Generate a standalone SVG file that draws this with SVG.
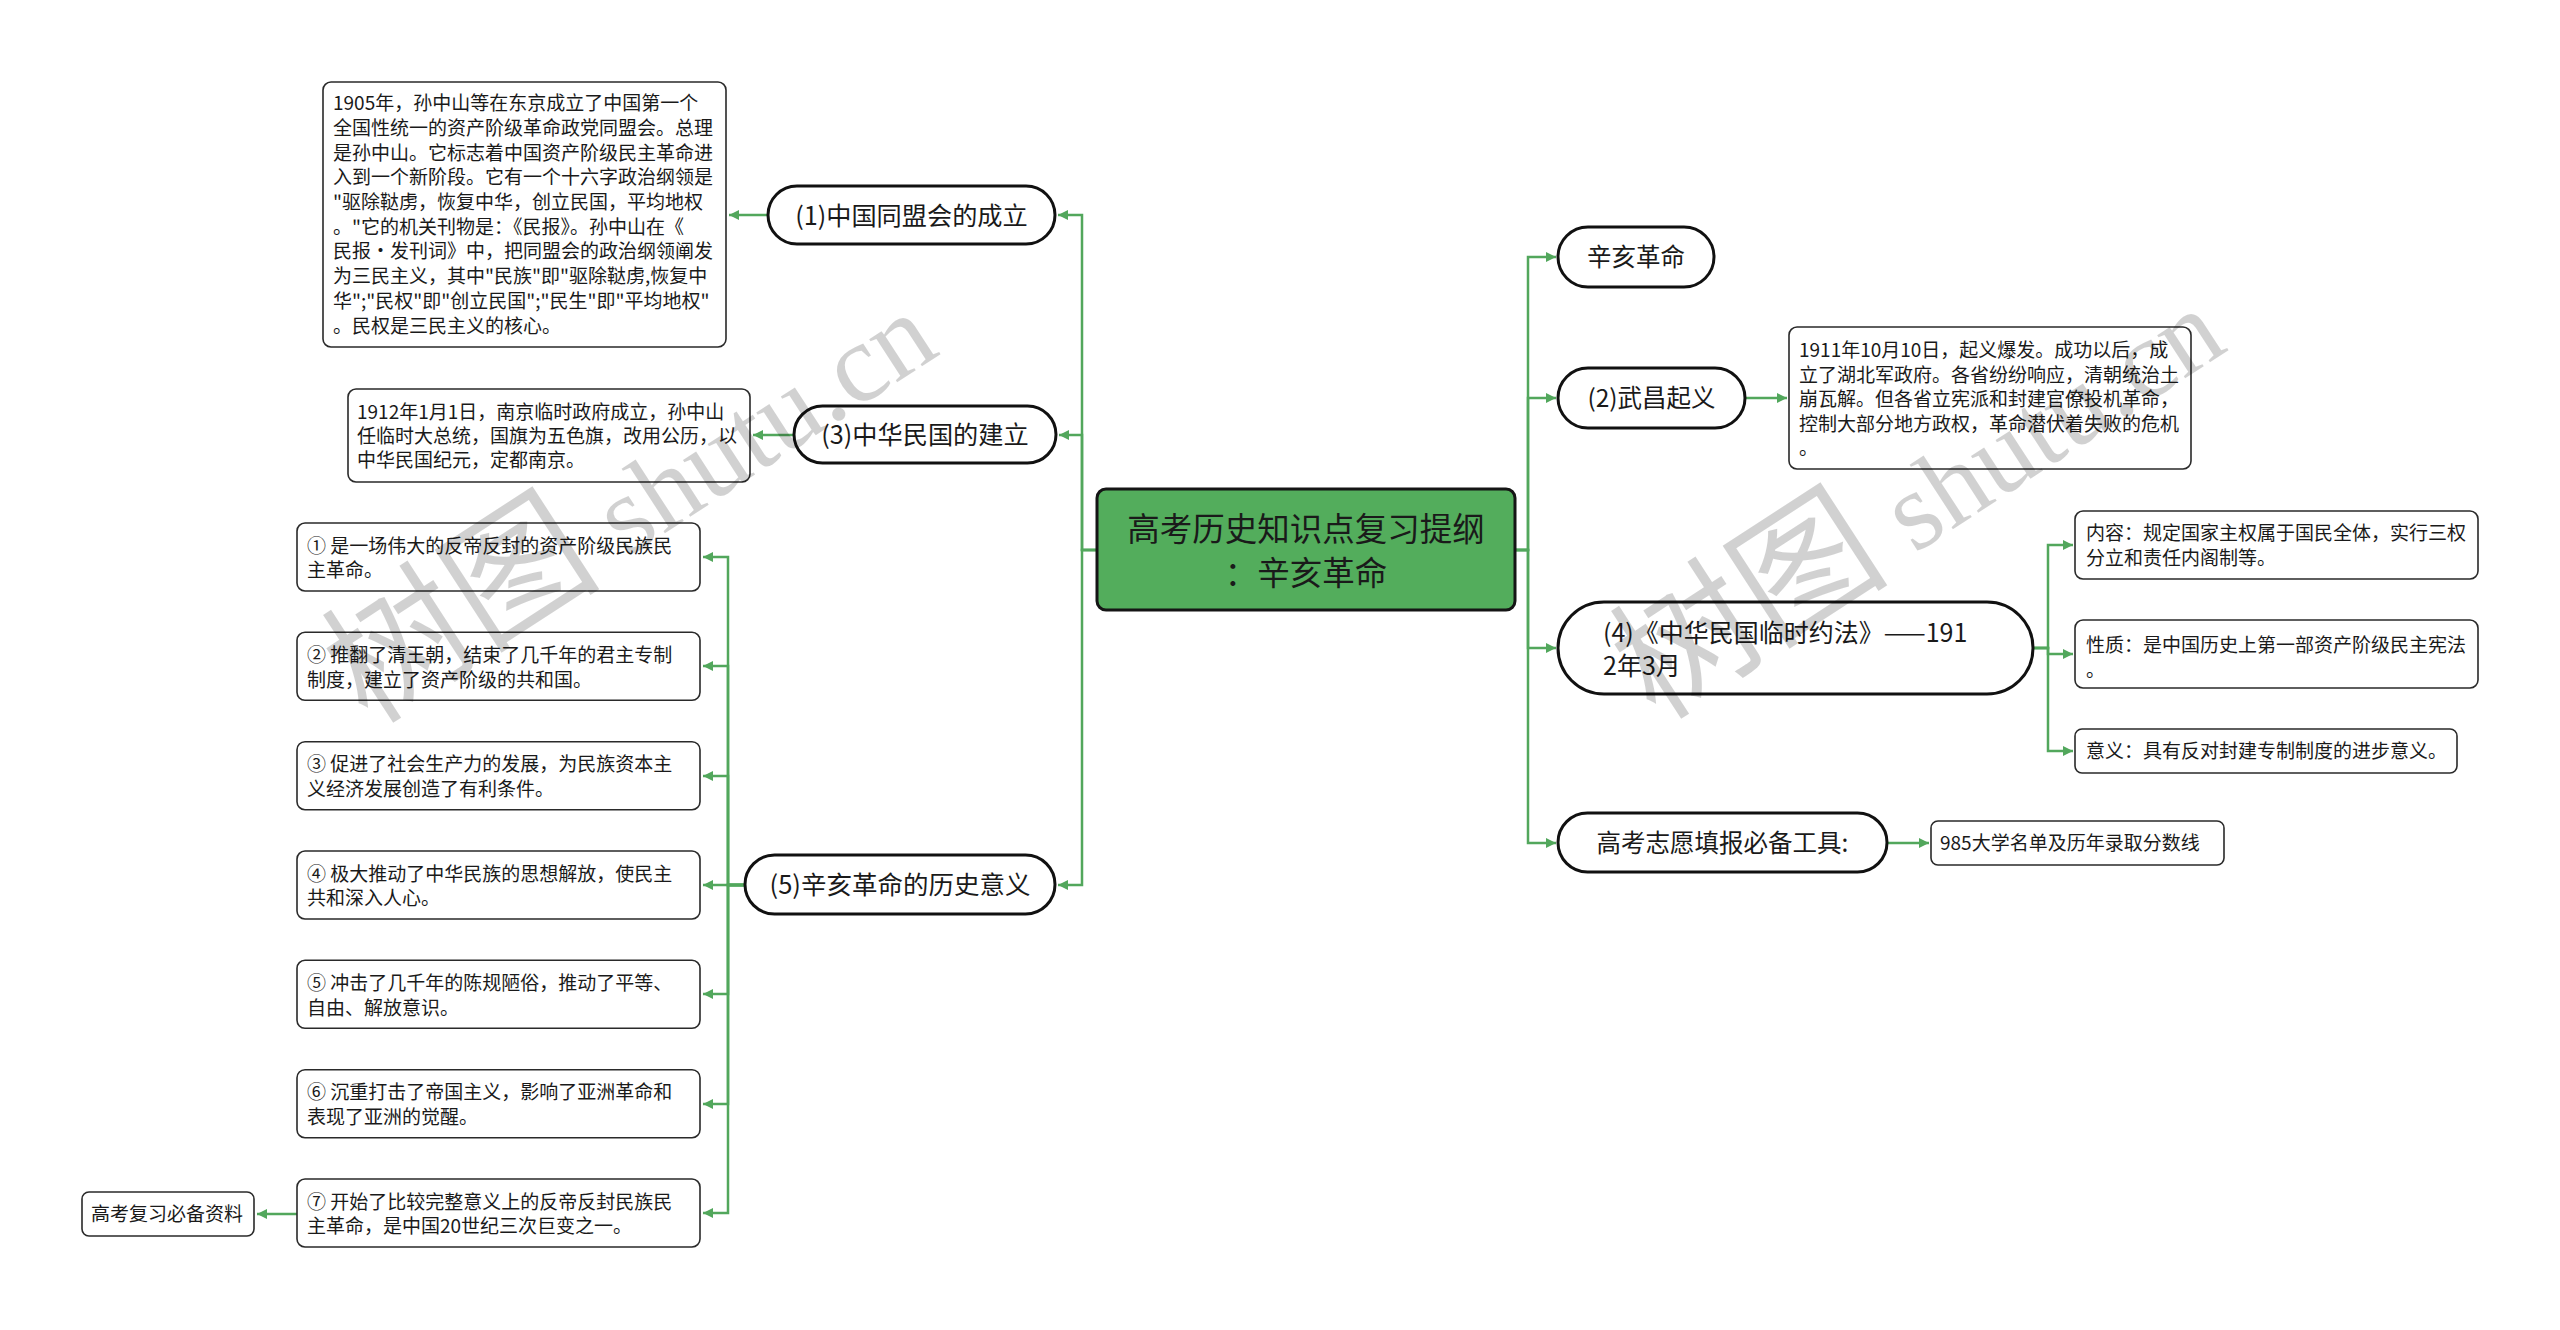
<svg xmlns="http://www.w3.org/2000/svg" width="2560" height="1330" viewBox="0 0 2560 1330">
<defs>
<marker id="arr" markerUnits="userSpaceOnUse" markerWidth="10" markerHeight="10" refX="10" refY="5" orient="auto">
<path d="M0,0 L10,5 L0,10 z" fill="#52a75c"/>
</marker>
<style>
.t{font-family:"Noto Sans CJK SC","Microsoft YaHei",sans-serif;fill:#1a1a1a}
.note{font-size:19px}
.pill{fill:#fff;stroke:#111;stroke-width:3}
.box{fill:#fff;stroke:#2a2a2a;stroke-width:1.6}
.c{fill:none;stroke:#52a75c;stroke-width:2.5;marker-end:url(#arr)}
.wm{font-family:"Liberation Serif","Noto Sans CJK SC",serif;font-size:112px;fill:#000;fill-opacity:0.18}
.wmc{font-size:140px}
</style>
</defs>
<rect width="2560" height="1330" fill="#fff"/>

<g id="connectors">
<path class="c" d="M1097 550 H1082 V215 H1058"/>
<path class="c" d="M1097 550 H1082 V435 H1059"/>
<path class="c" d="M1097 550 H1082 V885 H1058"/>
<path class="c" d="M768 215 H729"/>
<path class="c" d="M794 435 H753"/>
<path class="c" d="M745 885 H728 V557 H703"/>
<path class="c" d="M745 885 H728 V666 H703"/>
<path class="c" d="M745 885 H728 V776 H703"/>
<path class="c" d="M745 885 H703"/>
<path class="c" d="M745 885 H728 V994 H703"/>
<path class="c" d="M745 885 H728 V1104 H703"/>
<path class="c" d="M745 885 H728 V1213 H703"/>
<path class="c" d="M297 1214 H257"/>
<path class="c" d="M1515 550 H1528 V257 H1556"/>
<path class="c" d="M1515 550 H1528 V398 H1556"/>
<path class="c" d="M1515 550 H1528 V648 H1556"/>
<path class="c" d="M1515 550 H1528 V843 H1556"/>
<path class="c" d="M1745 398 H1787"/>
<path class="c" d="M2033 648 H2048 V545 H2073"/>
<path class="c" d="M2033 648 H2048 V654 H2073"/>
<path class="c" d="M2033 648 H2048 V751 H2073"/>
<path class="c" d="M1887 843 H1929"/>
</g>

<g id="root">
<rect x="1097" y="489" width="418" height="121" rx="9" fill="#53ad5c" stroke="#151515" stroke-width="3"/>
<text class="t" x="1306" y="540.5" font-size="32.5" text-anchor="middle" fill="#1e2a1e">高考历史知识点复习提纲</text>
<text class="t" x="1306" y="585" font-size="32.5" text-anchor="middle" fill="#1e2a1e">：辛亥革命</text>
</g>

<g id="n1">
<rect class="pill" x="768" y="186" width="287" height="58" rx="29"/>
<text class="t" x="911.5" y="224.5" font-size="25.2" text-anchor="middle">(1)中国同盟会的成立</text>
</g>
<g id="n1d">
<rect class="box" x="323" y="82" width="403" height="265" rx="8"/>
<text class="t note" x="333" y="110.2">
<tspan x="333">1905年，孙中山等在东京成立了中国第一个</tspan>
<tspan x="333" dy="24.7">全国性统一的资产阶级革命政党同盟会。总理</tspan>
<tspan x="333" dy="24.7">是孙中山。它标志着中国资产阶级民主革命进</tspan>
<tspan x="333" dy="24.7">入到一个新阶段。它有一个十六字政治纲领是</tspan>
<tspan x="333" dy="24.7">"驱除鞑虏，恢复中华，创立民国，平均地权</tspan>
<tspan x="333" dy="24.7">。"它的机关刊物是：《民报》。孙中山在《</tspan>
<tspan x="333" dy="24.7">民报·发刊词》中，把同盟会的政治纲领阐发</tspan>
<tspan x="333" dy="24.7">为三民主义，其中"民族"即"驱除鞑虏,恢复中</tspan>
<tspan x="333" dy="24.7">华";"民权"即"创立民国";"民生"即"平均地权"</tspan>
<tspan x="333" dy="24.7">。民权是三民主义的核心。</tspan>
</text>
</g>

<g id="n3">
<rect class="pill" x="794" y="406" width="262" height="57" rx="28.5"/>
<text class="t" x="925" y="444" font-size="25.2" text-anchor="middle">(3)中华民国的建立</text>
</g>
<g id="n3d">
<rect class="box" x="348" y="389" width="402" height="93" rx="8"/>
<text class="t note" x="357" y="419.2">
<tspan x="357">1912年1月1日，南京临时政府成立，孙中山</tspan>
<tspan x="357" dy="24">任临时大总统，国旗为五色旗，改用公历，以</tspan>
<tspan x="357" dy="24">中华民国纪元，定都南京。</tspan>
</text>
</g>

<g id="n5">
<rect class="pill" x="745" y="855" width="310" height="59" rx="29.5"/>
<text class="t" x="900" y="894.2" font-size="25.5" text-anchor="middle">(5)辛亥革命的历史意义</text>
</g>
<g id="n5a">
<rect class="box" x="297" y="523" width="403" height="68" rx="8"/>
<text class="t note" x="307" y="552.7"><tspan x="307">① 是一场伟大的反帝反封的资产阶级民族民</tspan><tspan x="307" dy="24.5">主革命。</tspan></text>
</g>
<g id="n5b">
<rect class="box" x="297" y="632.3" width="403" height="68" rx="8"/>
<text class="t note" x="307" y="662"><tspan x="307">② 推翻了清王朝，结束了几千年的君主专制</tspan><tspan x="307" dy="24.5">制度，建立了资产阶级的共和国。</tspan></text>
</g>
<g id="n5c">
<rect class="box" x="297" y="741.7" width="403" height="68" rx="8"/>
<text class="t note" x="307" y="771.4"><tspan x="307">③ 促进了社会生产力的发展，为民族资本主</tspan><tspan x="307" dy="24.5">义经济发展创造了有利条件。</tspan></text>
</g>
<g id="n5d">
<rect class="box" x="297" y="851" width="403" height="68" rx="8"/>
<text class="t note" x="307" y="880.7"><tspan x="307">④ 极大推动了中华民族的思想解放，使民主</tspan><tspan x="307" dy="24.5">共和深入人心。</tspan></text>
</g>
<g id="n5e">
<rect class="box" x="297" y="960.3" width="403" height="68" rx="8"/>
<text class="t note" x="307" y="990"><tspan x="307">⑤ 冲击了几千年的陈规陋俗，推动了平等、</tspan><tspan x="307" dy="24.5">自由、解放意识。</tspan></text>
</g>
<g id="n5f">
<rect class="box" x="297" y="1069.7" width="403" height="68" rx="8"/>
<text class="t note" x="307" y="1099.4"><tspan x="307">⑥ 沉重打击了帝国主义，影响了亚洲革命和</tspan><tspan x="307" dy="24.5">表现了亚洲的觉醒。</tspan></text>
</g>
<g id="n5g">
<rect class="box" x="297" y="1179" width="403" height="68" rx="8"/>
<text class="t note" x="307" y="1208.7"><tspan x="307">⑦ 开始了比较完整意义上的反帝反封民族民</tspan><tspan x="307" dy="24.5">主革命，是中国20世纪三次巨变之一。</tspan></text>
</g>
<g id="n5g1">
<rect class="box" x="82" y="1192" width="172" height="44" rx="7"/>
<text class="t note" x="91" y="1221.2">高考复习必备资料</text>
</g>

<g id="r0">
<rect class="pill" x="1558" y="227" width="156" height="60" rx="30"/>
<text class="t" x="1636" y="266.3" font-size="24.5" text-anchor="middle">辛亥革命</text>
</g>
<g id="r2">
<rect class="pill" x="1558" y="368" width="187" height="60" rx="30"/>
<text class="t" x="1651.5" y="407.3" font-size="24.5" text-anchor="middle">(2)武昌起义</text>
</g>
<g id="r2d">
<rect class="box" x="1789" y="327" width="402" height="142" rx="8"/>
<text class="t note" x="1799" y="357.2">
<tspan x="1799">1911年10月10日，起义爆发。成功以后，成</tspan>
<tspan x="1799" dy="24.5">立了湖北军政府。各省纷纷响应，清朝统治土</tspan>
<tspan x="1799" dy="24.5">崩瓦解。但各省立宪派和封建官僚投机革命，</tspan>
<tspan x="1799" dy="24.5">控制大部分地方政权，革命潜伏着失败的危机</tspan>
<tspan x="1799" dy="24.5">。</tspan>
</text>
</g>
<g id="r4">
<rect class="pill" x="1558" y="602" width="475" height="92" rx="46"/>
<text class="t" x="1603" y="641.5" font-size="25"><tspan x="1603">(4)《中华民国临时约法》——191</tspan><tspan x="1603" dy="33">2年3月</tspan></text>
</g>
<g id="r4a">
<rect class="box" x="2075" y="511" width="403" height="68" rx="8"/>
<text class="t note" x="2086" y="540.2"><tspan x="2086">内容：规定国家主权属于国民全体，实行三权</tspan><tspan x="2086" dy="24.7">分立和责任内阁制等。</tspan></text>
</g>
<g id="r4b">
<rect class="box" x="2075" y="620" width="403" height="68" rx="8"/>
<text class="t note" x="2086" y="652.2"><tspan x="2086">性质：是中国历史上第一部资产阶级民主宪法</tspan><tspan x="2086" dy="24.5">。</tspan></text>
</g>
<g id="r4c">
<rect class="box" x="2075" y="729" width="382" height="44" rx="7"/>
<text class="t note" x="2086" y="758.2">意义：具有反对封建专制制度的进步意义。</text>
</g>
<g id="r6">
<rect class="pill" x="1558" y="813" width="329" height="59" rx="29.5"/>
<text class="t" x="1722.5" y="851.8" font-size="24.5" text-anchor="middle">高考志愿填报必备工具:</text>
</g>
<g id="r6a">
<rect class="box" x="1931" y="821" width="293" height="44" rx="7"/>
<text class="t note" x="1940" y="850.2">985大学名单及历年录取分数线</text>
</g>

<g id="watermarks">
<text class="wm" transform="translate(368,726) rotate(-33)"><tspan class="wmc">树图</tspan> shutu.cn</text>
<text class="wm" transform="translate(1656,722) rotate(-33)"><tspan class="wmc">树图</tspan> shutu.cn</text>
</g>
</svg>
